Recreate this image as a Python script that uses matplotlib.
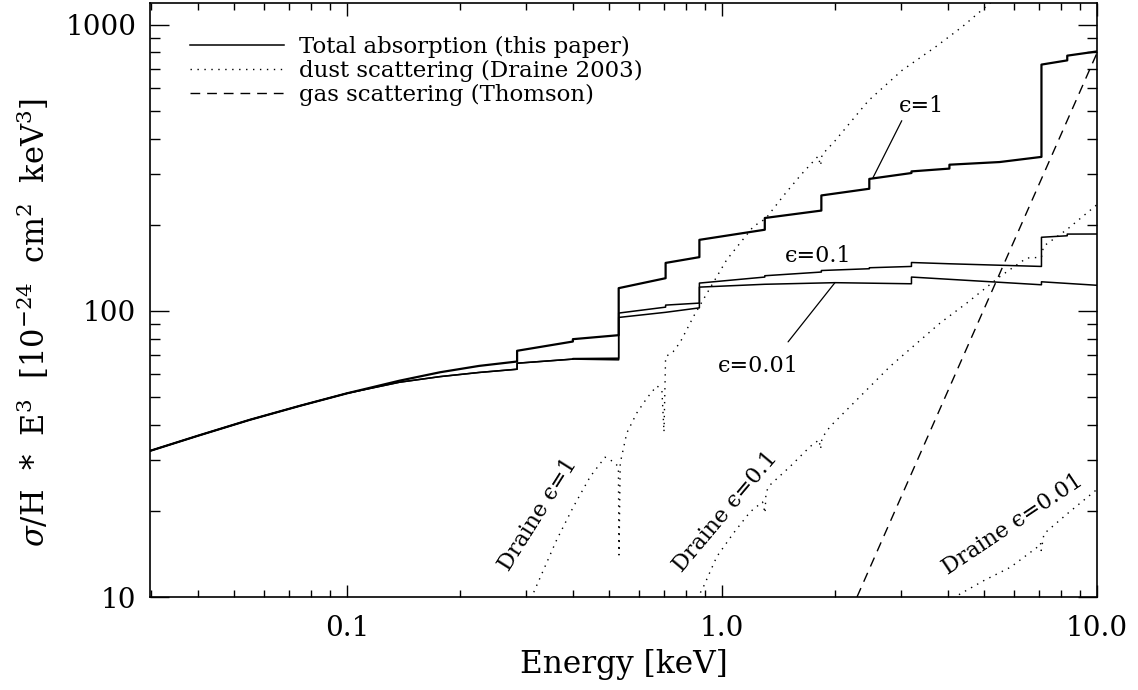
import matplotlib
matplotlib.use('Agg')
import matplotlib.pyplot as plt
from matplotlib.lines import Line2D
from matplotlib.ticker import FixedLocator, NullFormatter, FixedFormatter

plt.rcParams['font.family'] = ['DejaVu Serif', 'DejaVu Sans']
plt.rcParams['mathtext.fontset'] = 'dejavuserif'

# ---- Total absorption (this paper), sigma/H * E^3 ----
e_eps1 = [0.0298, 0.04, 0.055, 0.075, 0.1, 0.138, 0.177, 0.225, 0.284, 0.284, 0.40, 0.40,
          0.53, 0.53, 0.707, 0.707, 0.87, 0.87, 1.30, 1.30, 1.84, 1.84, 2.47, 2.47,
          3.2, 3.2, 4.04, 4.04, 5.5, 7.11, 7.11, 8.33, 8.33, 10.0]
y_eps1 = [32.4, 36.6, 41.6, 46.6, 51.5, 57.0, 61.0, 64.2, 66.5, 72.5, 78.1, 79.6,
          82.2, 120, 130, 147, 154, 177, 192, 211, 224, 253, 267, 289,
          303, 307, 314, 324, 331, 345, 725, 750, 779, 806]

e_eps01 = [0.0298, 0.04, 0.055, 0.075, 0.1, 0.138, 0.177, 0.225, 0.284, 0.284, 0.40, 0.40,
           0.53, 0.53, 0.707, 0.707, 0.87, 0.87, 1.30, 1.30, 1.84, 1.84, 2.47, 2.47,
           3.2, 3.2, 4.04, 7.11, 7.11, 8.33, 8.33, 10.0]
y_eps01 = [32.4, 36.6, 41.6, 46.6, 51.5, 56.3, 58.9, 60.9, 62.5, 65.6, 67.8, 68.1,
           68.3, 98.2, 103.0, 104.7, 106.4, 125.0, 131.2, 132.6, 136.6, 138.3, 140.3, 141.4,
           142.9, 147.5, 146.0, 142.9, 180.7, 182.9, 185.4, 185.5]

e_eps001 = [0.0298, 0.04, 0.055, 0.075, 0.1, 0.138, 0.177, 0.225, 0.284, 0.284, 0.40,
            0.53, 0.53, 0.707, 0.87, 0.87, 1.30, 2.0, 3.2, 3.2, 7.11, 7.11, 10.0]
y_eps001 = [32.4, 36.6, 41.6, 46.6, 51.5, 56.3, 58.9, 60.9, 62.5, 65.6, 67.8,
            67.4, 94.8, 98.8, 102.4, 121.0, 123.8, 125.4, 124.3, 131.2, 123.3, 126.3, 122.8]

# ---- Dust scattering (Draine 2003) ----
e_dust1 = [0.304, 0.334, 0.362, 0.4015, 0.445, 0.4875, 0.513, 0.529, 0.531, 0.535,
           0.557, 0.592, 0.630, 0.670, 0.691, 0.700, 0.707, 0.741, 0.773, 0.822,
           0.839, 0.901, 1.029, 1.212, 1.307, 1.463, 1.624, 1.803, 1.831, 1.848,
           1.998, 2.457, 3.02, 3.715, 4.38, 5.065, 5.51]
y_dust1 = [9.38, 12.43, 15.82, 20.69, 26.34, 30.8, 29.7, 28.55, 14.03, 29.35,
           37.4, 43.9, 49.5, 54.7, 52.9, 37.75, 69.1, 72.05, 77.6, 90.6,
           95.5, 112.2, 150.8, 197.1, 209.9, 253.8, 298.9, 346.7, 321.4, 351.2,
           391.7, 542.4, 692.1, 837, 984.9, 1158.8, 1274]

e_dust01 = [0.842, 0.892, 0.968, 1.072, 1.188, 1.282, 1.302, 1.310, 1.343, 1.518,
            1.717, 1.814, 1.831, 1.848, 1.941, 2.287, 2.805, 3.814, 4.493, 5.512,
            6.493, 7.11, 7.20, 8.302, 10.0]
y_dust01 = [9.38, 10.86, 13.83, 16.7, 19.83, 21.49, 19.62, 23.28, 24.64, 28.55,
            33.54, 35.4, 32.9, 35.97, 39.4, 48.85, 63.9, 90.6, 106.4, 131.8,
            152.9, 153.8, 168.1, 192, 235]

e_dust001 = [4.18, 4.232, 4.99, 5.88, 6.93, 7.07, 7.10, 7.22, 8.34, 9.93]
y_dust001 = [9.76, 10.1, 11.41, 12.71, 14.93, 15.44, 14.54, 16.63, 19.56, 23.6]

# ---- Gas scattering (Thomson) ----
e_gas = [2.29, 10.0]
y_gas = [10.0, 796]

# ---- labels ----
legend_labels = ['Total absorption (this paper)', 'dust scattering (Draine 2003)',
                 'gas scattering (Thomson)']
xtick_vals = [0.1, 1.0, 10.0]
xtick_labels = ['0.1', '1.0', '10.0']
ytick_vals = [10, 100, 1000]
ytick_labels = ['10', '100', '1000']

DOT = (0, (1.0, 4.0))
DASH = (0, (7, 5))
EPS = '\u03f5'

fig = plt.figure(figsize=(11.38, 6.90), dpi=100)
ax = fig.add_axes([150 / 1138, 1 - 597 / 690, 947 / 1138, 594 / 690])

ax.plot(e_eps1, y_eps1, color='k', lw=1.6)
ax.plot(e_eps01, y_eps01, color='k', lw=1.1)
ax.plot(e_eps001, y_eps001, color='k', lw=1.1)
for e, y in [(e_dust1, y_dust1), (e_dust01, y_dust01), (e_dust001, y_dust001)]:
    ax.plot(e, y, color='k', lw=1.0, linestyle=DOT)
ax.plot(e_gas, y_gas, color='k', lw=1.0, linestyle=DASH)

ax.set_xscale('log')
ax.set_yscale('log')
ax.set_xlim(0.0298, 10.0)
ax.set_ylim(10, 1190)

ax.xaxis.set_major_locator(FixedLocator(xtick_vals))
ax.xaxis.set_major_formatter(FixedFormatter(xtick_labels))
xminor = [m * d for d in (0.01, 0.1, 1.0) for m in range(2, 10)]
ax.xaxis.set_minor_locator(FixedLocator(xminor))
ax.xaxis.set_minor_formatter(NullFormatter())
ax.yaxis.set_major_locator(FixedLocator(ytick_vals))
ax.yaxis.set_major_formatter(FixedFormatter(ytick_labels))
yminor = [m * d for d in (10, 100) for m in range(2, 10)]
ax.yaxis.set_minor_locator(FixedLocator(yminor))
ax.yaxis.set_minor_formatter(NullFormatter())

ax.tick_params(axis='both', which='both', direction='in', top=True, right=True,
               width=1.0, labelsize=20)
ax.tick_params(axis='x', which='major', length=9, pad=13)
ax.tick_params(axis='x', which='minor', length=5)
ax.tick_params(axis='y', which='major', length=14, pad=10)
ax.tick_params(axis='y', which='minor', length=7.5)
for s in ax.spines.values():
    s.set_linewidth(1.2)

ax.set_xlabel('Energy [keV]', fontsize=22.5, labelpad=5)
ax.set_ylabel(r'$\sigma$/H  $*$  E$^3$  [10$^{-24}$  cm$^2$  keV$^3$]', fontsize=22)
ax.yaxis.set_label_coords(-0.104, 0.463)

handles = [Line2D([], [], color='k', lw=1.1),
           Line2D([], [], color='k', lw=1.0, linestyle=DOT),
           Line2D([], [], color='k', lw=1.0, linestyle=DASH)]
ax.legend(handles, legend_labels, loc='upper left', bbox_to_anchor=(0.042, 0.944),
          frameon=False, fontsize=16.5, handlelength=4.1, handletextpad=0.65,
          labelspacing=0.07, borderpad=0, borderaxespad=0)

# curve labels and leader lines
ax.text(3.41, 519, EPS + '=1', fontsize=16, ha='center', va='center')
ax.annotate('', xy=(2.527, 292), xytext=(3.015, 461.6),
            arrowprops=dict(arrowstyle='-', lw=0.9, color='k', shrinkA=0, shrinkB=0))
ax.text(1.808, 155.1, EPS + '=0.1', fontsize=16, ha='center', va='center')
ax.text(1.247, 64.3, EPS + '=0.01', fontsize=16, ha='center', va='center')
ax.annotate('', xy=(2.0, 125.4), xytext=(1.50, 77.9),
            arrowprops=dict(arrowstyle='-', lw=0.9, color='k', shrinkA=0, shrinkB=0))

ax.text(0.3237, 19.35, 'Draine ' + EPS + '=1', fontsize=16, rotation=57.8,
        ha='center', va='center', rotation_mode='anchor')
ax.text(1.0186, 19.8, 'Draine ' + EPS + '=0.1', fontsize=16, rotation=50,
        ha='center', va='center', rotation_mode='anchor')
ax.text(5.97, 17.9, 'Draine ' + EPS + '=0.01', fontsize=16, rotation=33.8,
        ha='center', va='center', rotation_mode='anchor')

fig.savefig('out.png', dpi=100)
